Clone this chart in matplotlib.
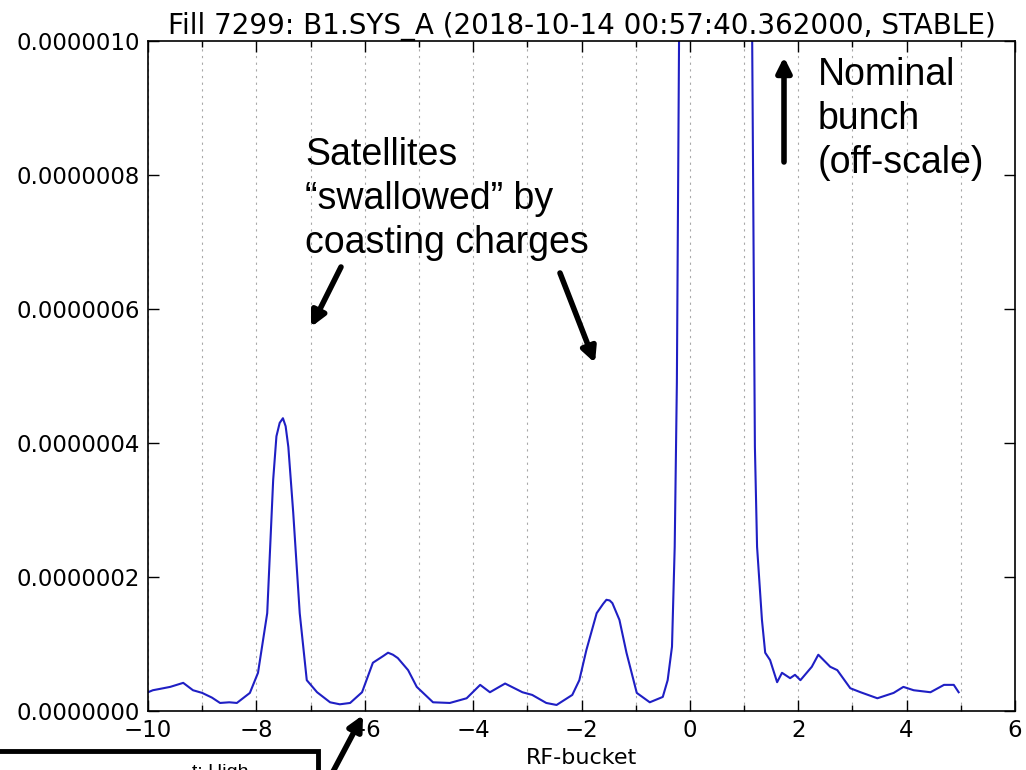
import matplotlib

matplotlib.use("Agg")
import matplotlib.pyplot as plt
from matplotlib.patches import Rectangle
from matplotlib.ticker import FormatStrFormatter, MultipleLocator

# RF-bucket position and signal (units of 1e-7)
bucket = [-10.0, -9.91, -9.78, -9.59, -9.35, -9.17, -9.0, -8.82, -8.67, -8.5,
          -8.36, -8.12, -7.97, -7.80, -7.69, -7.63, -7.57, -7.51, -7.46, -7.41,
          -7.32, -7.20, -7.07, -6.88, -6.64, -6.46, -6.27, -6.05, -5.85, -5.66,
          -5.57, -5.48, -5.39, -5.20, -5.04, -4.74, -4.43, -4.12, -3.87, -3.69,
          -3.41, -3.09, -2.91, -2.65, -2.46, -2.17, -2.04, -1.91, -1.72, -1.60,
          -1.54, -1.48, -1.43, -1.30, -1.17, -0.98, -0.74, -0.50, -0.41, -0.33,
          -0.28, -0.24, -0.20, 0.0, 0.5, 1.0, 1.15, 1.20, 1.24, 1.33,
          1.39, 1.48, 1.61, 1.70, 1.85, 1.94, 2.04, 2.25, 2.37, 2.59,
          2.72, 2.96, 3.15, 3.46, 3.76, 3.94, 4.13, 4.44, 4.69, 4.87,
          4.96]
signal_e7 = [0.28, 0.31, 0.33, 0.36, 0.42, 0.31, 0.27, 0.20, 0.12, 0.13,
             0.12, 0.27, 0.57, 1.46, 3.45, 4.10, 4.30, 4.37, 4.25, 3.94,
             2.96, 1.46, 0.46, 0.28, 0.13, 0.10, 0.12, 0.28, 0.72, 0.82,
             0.87, 0.84, 0.79, 0.61, 0.36, 0.13, 0.12, 0.19, 0.39, 0.28,
             0.41, 0.28, 0.24, 0.12, 0.09, 0.24, 0.46, 0.91, 1.46, 1.60,
             1.66, 1.65, 1.61, 1.36, 0.87, 0.27, 0.13, 0.21, 0.46, 0.96,
             2.45, 4.90, 10.0, 40.0, 60.0, 30.0, 10.0, 3.94, 2.45, 1.36,
             0.87, 0.76, 0.43, 0.57, 0.49, 0.54, 0.46, 0.66, 0.84, 0.66,
             0.61, 0.34, 0.28, 0.19, 0.27, 0.36, 0.31, 0.28, 0.39, 0.39,
             0.28]

TITLE = "Fill 7299: B1.SYS_A (2018-10-14 00:57:40.362000, STABLE)"
NOTE_SAT = "Satellites\n\u201cswallowed\u201d by\ncoasting charges"
NOTE_NOM = "Nominal\nbunch\n(off-scale)"
NOTE_BOX = "t: High"

H = 770  # figure height in px, used to flip reference y coords

fig = plt.figure(figsize=(10.26, 7.70), dpi=100)
ax = fig.add_axes([148 / 1026, 59 / 770, 867 / 1026, 670 / 770])

ax.plot(bucket, [v * 1e-7 for v in signal_e7], color="#1f1fc4", lw=1.5)

ax.set_xlim(-10, 6)
ax.set_ylim(0, 1e-6)
ax.xaxis.set_major_locator(MultipleLocator(2))
ax.xaxis.set_minor_locator(MultipleLocator(1))
ax.yaxis.set_major_locator(MultipleLocator(2e-7))
ax.yaxis.set_major_formatter(FormatStrFormatter("%.7f"))
ax.tick_params(which="both", direction="in", top=True, right=True,
               labelsize=16.5, pad=6)
ax.tick_params(which="major", length=8, width=1)
ax.tick_params(which="minor", length=4, width=1)
ax.xaxis.grid(True, which="both", color="#a8a8a8", ls=(0, (2, 4)), lw=0.8)
for s in ax.spines.values():
    s.set_linewidth(1.2)

ax.set_xlabel("RF-bucket", fontsize=16, labelpad=4)
ax.set_title(TITLE, fontsize=20, pad=5)

# slide annotations (Arial-like), placed in figure pixels
note_kw = dict(xycoords="figure pixels", fontsize=27, family="Liberation Sans",
               ha="left", va="top", linespacing=1.28)
ax.annotate(NOTE_SAT, (305, H - 137), **note_kw)
ax.annotate(NOTE_NOM, (818, H - 57), **note_kw)

arrow = dict(arrowstyle="-|>", color="black", lw=4, mutation_scale=22,
             shrinkA=0, shrinkB=0)
for (tx, ty), (hx, hy) in [((341, 267), (311, 327)),
                           ((560, 273), (595, 363)),
                           ((784, 162), (784, 57)),
                           ((318, 800), (363, 715))]:
    ax.annotate("", xy=(hx, H - hy), xycoords="figure pixels",
                xytext=(tx, H - ty), textcoords="figure pixels",
                arrowprops=arrow, annotation_clip=False)

# box at the bottom edge, cut off by the slide crop
fig.add_artist(Rectangle((-20 / 1026, -0.1), 338 / 1026, 0.1 + (H - 751) / H,
                         transform=fig.transFigure, fill=False,
                         ec="black", lw=3.5, clip_on=False))
fig.text(192 / 1026, -7 / H, NOTE_BOX, fontsize=14, family="Liberation Sans",
         ha="left", va="baseline")

fig.savefig("out.png", dpi=100)
